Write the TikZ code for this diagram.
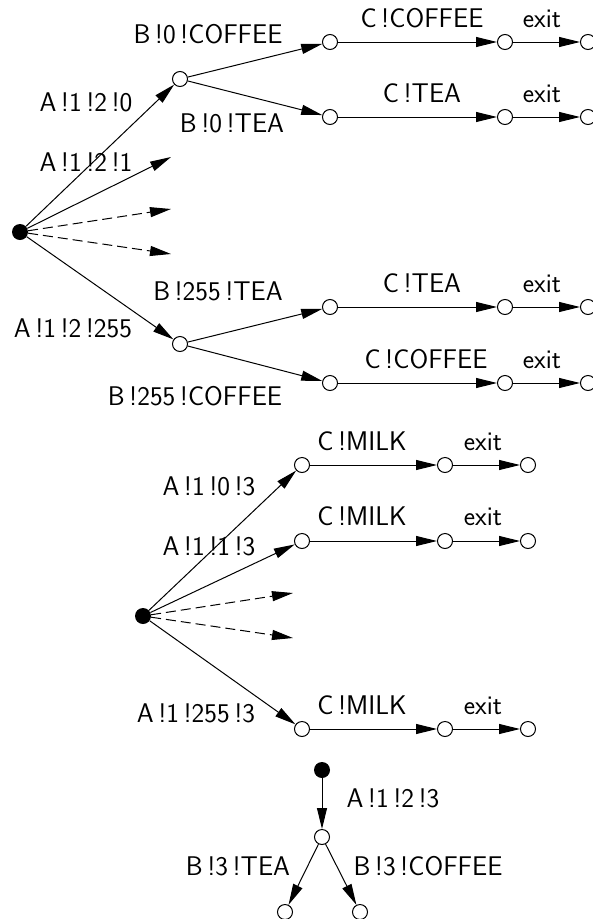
\documentclass[tikz,border=0pt]{standalone}
\usepackage{fontspec}
\usetikzlibrary{arrows.meta}
\begin{document}
\begin{tikzpicture}[x=1pt,y=-1pt,
  open/.style={circle,draw,line width=1pt,minimum size=15pt,inner sep=0pt,fill=white},
  full/.style={circle,fill=black,minimum size=16pt,inner sep=0pt},
  lbl/.style={font=\sffamily\fontsize{27}{31}\selectfont,inner sep=0pt,anchor=base},
  arr/.style={line width=1pt,-{Triangle[length=21pt,width=10pt]}},
  dsh/.style={arr,dash pattern=on 10pt off 5pt},
  ln/.style={line width=1pt}]
\useasboundingbox (0,0) rectangle (593,919);
% ---------- top tree ----------
\node[full] (r1) at (20,232) {};
\node[open] (a) at (180,79) {};
\node[open] (b) at (180,344) {};
\coordinate (d1) at (171,157);
\coordinate (d2) at (171,209);
\coordinate (d3) at (171,254);
\node[open] (a1) at (330,42) {};
\node[open] (a2) at (505,42) {};
\node[open] (a3) at (588,42) {};
\node[open] (a4) at (330,117) {};
\node[open] (a5) at (505,117) {};
\node[open] (a6) at (588,117) {};
\node[open] (b1) at (330,307) {};
\node[open] (b2) at (505,307) {};
\node[open] (b3) at (588,307) {};
\node[open] (b4) at (330,383) {};
\node[open] (b5) at (505,383) {};
\node[open] (b6) at (588,383) {};
\draw[arr] (r1) -- (a);
\draw[arr] (r1) -- (d1);
\draw[dsh] (r1) -- (d2);
\draw[dsh] (r1) -- (d3);
\draw[arr] (r1) -- (b);
\draw[arr] (a) -- (a1);
\draw[arr] (a) -- (a4);
\draw[arr] (b) -- (b1);
\draw[arr] (b) -- (b4);
\draw[arr] (a1) -- (a2);
\draw[arr] (a2) -- (a3);
\draw[arr] (a4) -- (a5);
\draw[arr] (a5) -- (a6);
\draw[arr] (b1) -- (b2);
\draw[arr] (b2) -- (b3);
\draw[arr] (b4) -- (b5);
\draw[arr] (b5) -- (b6);
\node[lbl] (la) at (86,111) {A\,!1\,!2\,!0};
\node[lbl] (lb) at (86,171) {A\,!1\,!2\,!1};
\node[lbl] (lc) at (73,337) {A\,!1\,!2\,!255};
\node[lbl] (ld) at (208,43) {B\,!0\,!COFFEE};
\node[lbl] (le) at (232,132) {B\,!0\,!TEA};
\node[lbl] (lf) at (218,300) {B\,!255\,!TEA};
\node[lbl] (lg) at (195,405) {B\,!255\,!COFFEE};
\node[lbl] (lh) at (422,27) {C\,!COFFEE};
\node[lbl] (li) at (542,27) {exit};
\node[lbl] (lj) at (422,102) {C\,!TEA};
\node[lbl] (lk) at (542,102) {exit};
\node[lbl] (ll) at (422,292) {C\,!TEA};
\node[lbl] (lm) at (542,292) {exit};
\node[lbl] (ln) at (426,368) {C\,!COFFEE};
\node[lbl] (lo) at (542,368) {exit};
% ---------- middle tree ----------
\node[full] (r2) at (143,616) {};
\coordinate (e1) at (293,593);
\coordinate (e2) at (293,638);
\node[open] (m1) at (302,465) {};
\node[open] (m2) at (445,465) {};
\node[open] (m3) at (528,465) {};
\node[open] (m4) at (302,541) {};
\node[open] (m5) at (445,541) {};
\node[open] (m6) at (528,541) {};
\node[open] (m7) at (302,729) {};
\node[open] (m8) at (445,729) {};
\node[open] (m9) at (528,729) {};
\draw[arr] (r2) -- (m1);
\draw[arr] (r2) -- (m4);
\draw[dsh] (r2) -- (e1);
\draw[dsh] (r2) -- (e2);
\draw[arr] (r2) -- (m7);
\draw[arr] (m1) -- (m2);
\draw[arr] (m2) -- (m3);
\draw[arr] (m4) -- (m5);
\draw[arr] (m5) -- (m6);
\draw[arr] (m7) -- (m8);
\draw[arr] (m8) -- (m9);
\node[lbl] (lp) at (209,495) {A\,!1\,!0\,!3};
\node[lbl] (lq) at (209,555) {A\,!1\,!1\,!3};
\node[lbl] (lr) at (196,722) {A\,!1\,!255\,!3};
\node[lbl] (ls) at (362,450) {C\,!MILK};
\node[lbl] (lt) at (483,450) {exit};
\node[lbl] (lu) at (362,525) {C\,!MILK};
\node[lbl] (lv) at (483,525) {exit};
\node[lbl] (lw) at (362,714) {C\,!MILK};
\node[lbl] (lx) at (483,714) {exit};
% ---------- bottom tree ----------
\node[full] (r3) at (322,770) {};
\node[open] (c) at (322,837) {};
\node[open] (c1) at (285,912) {};
\node[open] (c2) at (360,912) {};
\draw[arr] (r3) -- (c);
\draw[arr] (c) -- (c1);
\draw[arr] (c) -- (c2);
\node[lbl] (ly) at (393,807) {A\,!1\,!2\,!3};
\node[lbl] (lz) at (238,875) {B\,!3\,!TEA};
\node[lbl] (l0) at (428,875) {B\,!3\,!COFFEE};
\end{tikzpicture}
\end{document}
